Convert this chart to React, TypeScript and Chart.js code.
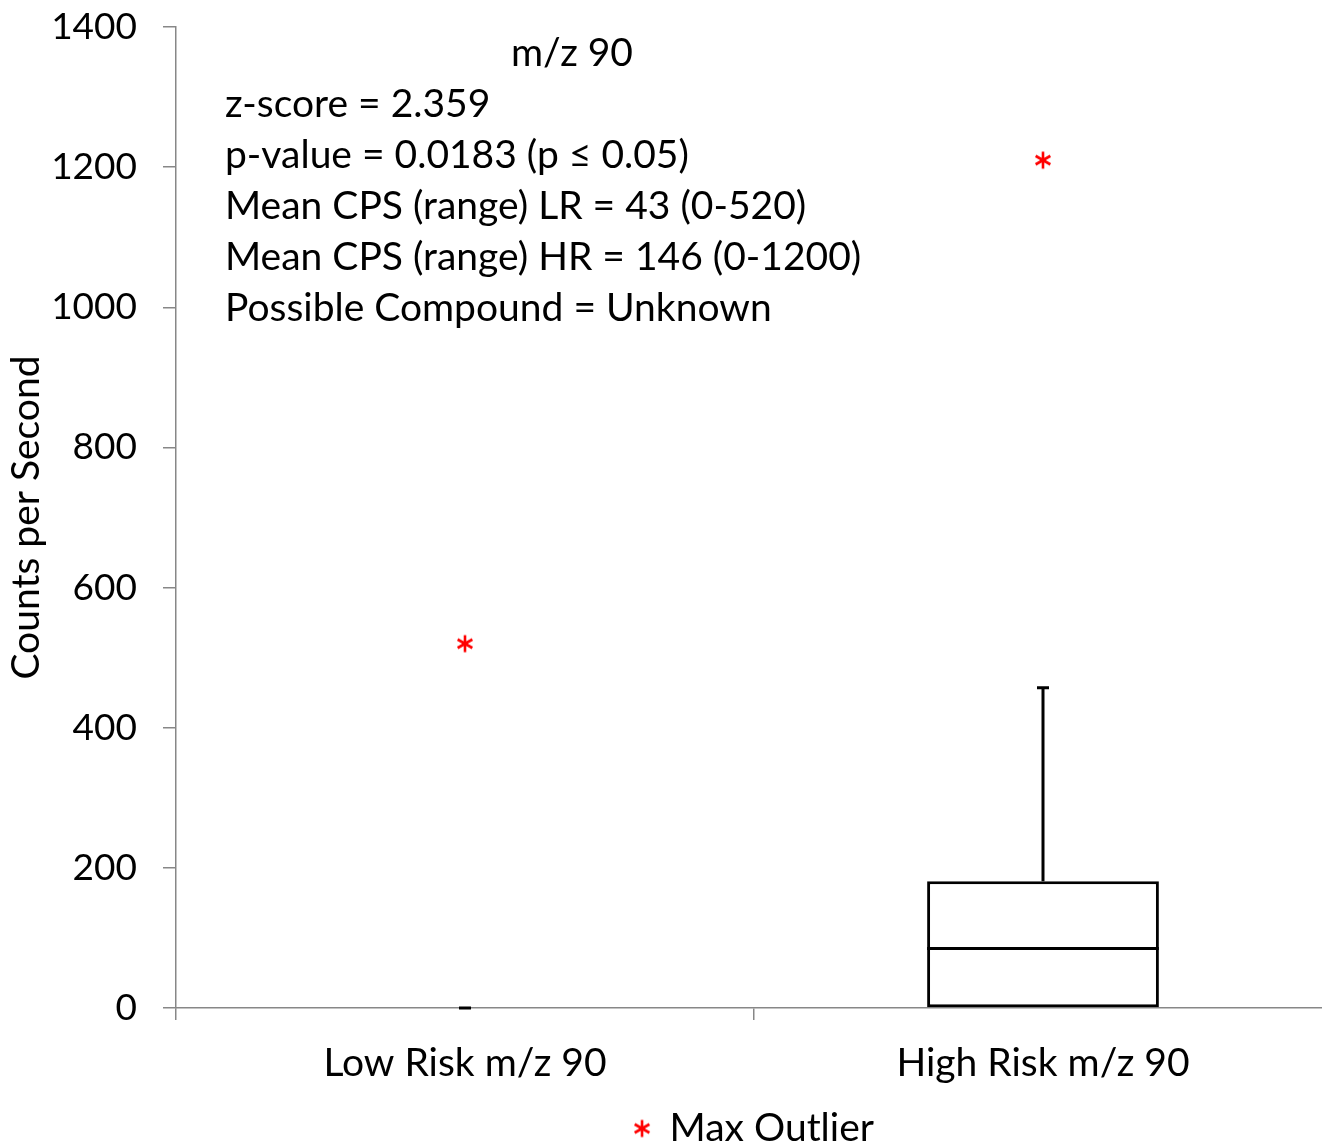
import React, { useEffect, useRef } from 'react';
import { Chart, registerables } from 'chart.js';

Chart.register(...registerables);

const categories = ['Low Risk m/z 90', 'High Risk m/z 90'];
const minValues = [0, 0];
const q1Values = [0, 0];
const medianValues = [0, 85];
const q3Values = [0, 181];
const maxValues = [0, 457];
const outlierValues = [520, 1210];
const yTickValues = [0, 200, 400, 600, 800, 1000, 1200, 1400];
const legendLabel = 'Max Outlier';
const yTitle = 'Counts per Second';
const noteTitle = 'm/z 90';
const noteLines = [
  'z-score = 2.359',
  'p-value = 0.0183 (p \u2264 0.05)',
  'Mean CPS (range) LR = 43 (0-520)',
  'Mean CPS (range) HR = 146 (0-1200)',
  'Possible Compound = Unknown',
];

const FONT = 'Lato, "Noto Sans", sans-serif';
const FS = 39;
const AXIS_GRAY = '#878787';
const CANVAS_W = 1332;
const CANVAS_H = 1145;

function makeStar(size: number, lw: number): HTMLCanvasElement {
  const c = document.createElement('canvas');
  c.width = size;
  c.height = size;
  const g = c.getContext('2d')!;
  g.strokeStyle = '#ff0000';
  g.lineWidth = lw;
  const m = size / 2;
  const r = size / 2 - 1.5;
  const dx = r * 0.866;
  const dy = r * 0.5;
  g.beginPath();
  g.moveTo(m, m - r);
  g.lineTo(m, m + r);
  g.moveTo(m - dx, m - dy);
  g.lineTo(m + dx, m + dy);
  g.moveTo(m - dx, m + dy);
  g.lineTo(m + dx, m - dy);
  g.stroke();
  return c;
}

const boxPlugin = {
  id: 'boxDecor',
  afterDatasetsDraw(chart: any) {
    const ctx = chart.ctx;
    const xs = chart.scales.x;
    const ys = chart.scales.y;
    const meta = chart.getDatasetMeta(0);
    ctx.save();
    ctx.strokeStyle = '#000000';
    ctx.lineWidth = 3;
    ctx.lineCap = 'butt';
    categories.forEach((_, i) => {
      const x = xs.getPixelForValue(i);
      const bar = meta.data[i];
      const half = bar ? bar.width / 2 : 0;
      const capHalf = 6;
      const yMed = ys.getPixelForValue(medianValues[i]);
      const yQ1 = ys.getPixelForValue(q1Values[i]);
      const yQ3 = ys.getPixelForValue(q3Values[i]);
      const yMax = ys.getPixelForValue(maxValues[i]);
      const yMin = ys.getPixelForValue(minValues[i]);
      const hasBox = q3Values[i] > q1Values[i];
      ctx.beginPath();
      if (hasBox) {
        ctx.moveTo(x - half, yMed);
        ctx.lineTo(x + half, yMed);
      }
      if (maxValues[i] > q3Values[i]) {
        ctx.moveTo(x, yQ3);
        ctx.lineTo(x, yMax);
      }
      if (q1Values[i] > minValues[i]) {
        ctx.moveTo(x, yQ1);
        ctx.lineTo(x, yMin);
      }
      ctx.moveTo(x - capHalf, yMax);
      ctx.lineTo(x + capHalf, yMax);
      if (!hasBox || q1Values[i] > minValues[i]) {
        ctx.moveTo(x - capHalf, yMin);
        ctx.lineTo(x + capHalf, yMin);
      }
      ctx.stroke();
    });
    ctx.restore();
  },
  afterDraw(chart: any) {
    const ctx = chart.ctx;
    const a = chart.chartArea;
    ctx.save();
    ctx.fillStyle = '#000000';
    ctx.font = `${FS}px ${FONT}`;
    ctx.textBaseline = 'middle';
    ctx.textAlign = 'center';
    ctx.fillText(noteTitle, a.left + 396, a.top + 26);
    ctx.textAlign = 'left';
    noteLines.forEach((t, i) => {
      ctx.fillText(t, a.left + 49, a.top + 77 + i * 51.2);
    });
    ctx.restore();
  },
};

export default function App() {
  const ref = useRef<HTMLCanvasElement | null>(null);
  useEffect(() => {
    document.body.style.margin = '0';
    document.body.style.overflow = 'hidden';
    document.documentElement.style.overflow = 'hidden';
    const star = makeStar(20, 2.6);
    const chart = new Chart(ref.current!, {
      type: 'bar',
      data: {
        labels: categories,
        datasets: [
          {
            type: 'bar',
            label: 'Box',
            data: categories.map((_, i) => [q1Values[i], q3Values[i]]) as any,
            backgroundColor: '#ffffff',
            borderColor: '#000000',
            borderWidth: 3,
            borderSkipped: false,
            barPercentage: 0.401,
            categoryPercentage: 1,
          },
          {
            type: 'line',
            label: legendLabel,
            data: outlierValues,
            showLine: false,
            pointStyle: star as any,
            pointRadius: 10,
            borderColor: '#ff0000',
            backgroundColor: '#ff0000',
          },
        ],
      },
      options: {
        animation: false,
        responsive: false,
        devicePixelRatio: 1,
        layout: { autoPadding: false, padding: { top: 27, left: 0, right: 0, bottom: -13 } },
        plugins: {
          tooltip: { enabled: false },
          legend: {
            position: 'bottom',
            fullSize: false,
            labels: {
              filter: (item: any) => item.datasetIndex === 1,
              usePointStyle: true,
              pointStyleWidth: 16,
              padding: 10,
              color: '#000000',
              font: { family: FONT, size: FS },
            },
          },
        },
        scales: {
          x: {
            type: 'category',
            offset: true,
            grid: {
              display: true,
              offset: true,
              drawOnChartArea: false,
              drawTicks: true,
              tickLength: 12,
              color: AXIS_GRAY,
              lineWidth: 1.5,
            },
            border: { display: true, color: AXIS_GRAY, width: 1.5 },
            ticks: {
              color: '#000000',
              padding: 20,
              font: { family: FONT, size: FS },
              maxRotation: 0,
            },
            afterFit: (s: any) => {
              s.height = 91;
              s.paddingLeft = 0;
              s.paddingRight = 0;
            },
          },
          y: {
            type: 'linear',
            min: 0,
            max: 1400,
            afterBuildTicks: (s: any) => {
              s.ticks = yTickValues.map((v) => ({ value: v }));
            },
            grid: {
              display: true,
              drawOnChartArea: false,
              drawTicks: true,
              tickLength: 13,
              color: AXIS_GRAY,
              lineWidth: 1.5,
            },
            border: { display: true, color: AXIS_GRAY, width: 1.5 },
            ticks: {
              color: '#000000',
              padding: 26,
              font: { family: FONT, size: 37 },
              callback: (v: any) => String(v),
            },
            title: {
              display: true,
              text: yTitle,
              color: '#000000',
              font: { family: FONT, size: FS },
              padding: { top: 3, bottom: 0 },
            },
            afterFit: (s: any) => {
              s.width = 176;
              s.paddingTop = 0;
              s.paddingBottom = 0;
            },
          },
        },
      },
      plugins: [boxPlugin],
    });
    return () => chart.destroy();
  }, []);
  return (
    <div style={{ width: CANVAS_W, height: CANVAS_H, overflow: 'hidden' }}>
      <canvas ref={ref} width={CANVAS_W} height={CANVAS_H} style={{ display: 'block' }} />
    </div>
  );
}
